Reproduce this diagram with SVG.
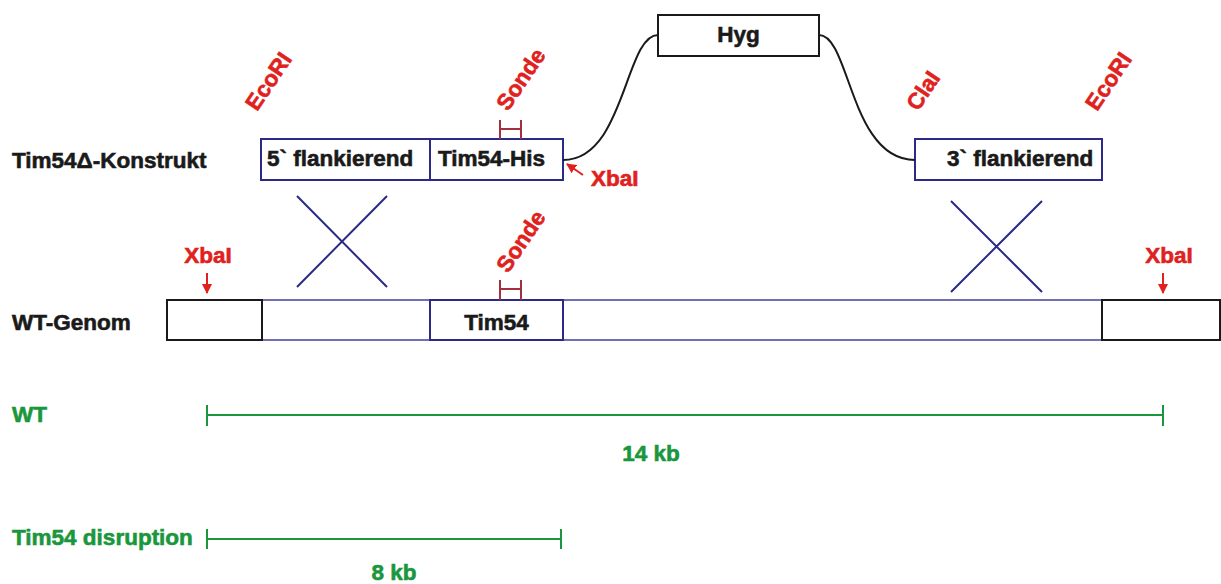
<svg xmlns="http://www.w3.org/2000/svg" width="1221" height="584" viewBox="0 0 1221 584">
  <style>
    text { font-family: "Liberation Sans", Arial, sans-serif; font-weight: bold; font-size: 22.5px; stroke-width: 0.6px; }
    .blk { fill: #1a1a1a; stroke: #1a1a1a; }
    .red { fill: #e0211d; stroke: #e0211d; }
    .grn { fill: #1a963c; stroke: #1a963c; }
    .navy { fill: #fff; stroke: #2b2a86; stroke-width: 2; }
    .bbox { fill: #fff; stroke: #1a1a1a; stroke-width: 2; }
    .cross { stroke: #2b2a86; stroke-width: 2; fill: none; }
    .probe { stroke: #a3303f; stroke-width: 2; fill: none; }
    .gline { stroke: #1a963c; stroke-width: 2; fill: none; }
    .wire { stroke: #1a1a1a; stroke-width: 2; fill: none; }
    .rarrow { stroke: #e0211d; stroke-width: 2; fill: none; }
    .genline { stroke: #7070b2; stroke-width: 2; fill: none; }
  </style>
  <defs>
    <marker id="ah" viewBox="0 0 10 10" refX="9" refY="5" markerWidth="5" markerHeight="5" orient="auto" markerUnits="strokeWidth">
      <path d="M0,0 L10,5 L0,10 z" fill="#e0211d"/>
    </marker>
  </defs>

  <rect width="1221" height="584" fill="#fff"/>

  <!-- Row labels -->
  <g id="label-construct"><text class="blk" x="12" y="168">Tim54Δ-Konstrukt</text></g>
  <g id="label-genome"><text class="blk" x="12" y="330">WT-Genom</text></g>

  <!-- Construct -->
  <g id="box-5flank">
    <rect class="navy" x="261" y="139" width="169" height="41"/>
    <text class="blk" x="267" y="166">5` flankierend</text>
  </g>
  <g id="box-tim54his">
    <rect class="navy" x="430" y="139" width="133" height="41"/>
    <text class="blk" x="438" y="166">Tim54-His</text>
  </g>
  <g id="box-hyg">
    <rect class="bbox" x="658" y="15" width="161" height="41"/>
    <text class="blk" x="738.5" y="42" text-anchor="middle">Hyg</text>
  </g>
  <g id="box-3flank">
    <rect class="navy" x="915" y="139" width="187" height="41"/>
    <text class="blk" x="947" y="166">3` flankierend</text>
  </g>

  <!-- Genome -->
  <g id="genome">
    <line class="genline" x1="262" y1="300" x2="1102" y2="300"/>
    <line class="genline" x1="262" y1="340" x2="1102" y2="340"/>
    <rect class="bbox" x="167" y="300" width="95" height="40"/>
    <rect class="bbox" x="1102" y="300" width="118" height="40"/>
  </g>
  <g id="box-tim54">
    <rect class="navy" x="430" y="300" width="133" height="40"/>
    <text class="blk" x="496.5" y="330" text-anchor="middle">Tim54</text>
  </g>

  <!-- Restriction sites and probes -->
  <g id="site-ecori-left"><text class="red" transform="translate(257,112) rotate(-56)">EcoRI</text></g>
  <g id="site-clai"><text class="red" transform="translate(918,112) rotate(-56)">ClaI</text></g>
  <g id="site-ecori-right"><text class="red" transform="translate(1097,112) rotate(-56)">EcoRI</text></g>
  <g id="probe-construct">
    <path class="probe" d="M500,120 V139 M521,120 V139 M500,129 H521"/>
    <text class="red" transform="translate(508,112) rotate(-56)">Sonde</text>
  </g>
  <g id="probe-genome">
    <path class="probe" d="M500,280 V300 M521,280 V300 M500,289 H521"/>
    <text class="red" transform="translate(508,274) rotate(-56)">Sonde</text>
  </g>
  <g id="site-xbai-construct">
    <line class="rarrow" x1="583" y1="175" x2="567" y2="164" marker-end="url(#ah)"/>
    <text class="red" x="591" y="186">XbaI</text>
  </g>
  <g id="site-xbai-left">
    <line class="rarrow" x1="207" y1="273" x2="207" y2="293" marker-end="url(#ah)"/>
    <text class="red" x="208" y="263" text-anchor="middle">XbaI</text>
  </g>
  <g id="site-xbai-right">
    <line class="rarrow" x1="1163" y1="273" x2="1163" y2="293" marker-end="url(#ah)"/>
    <text class="red" x="1169" y="263" text-anchor="middle">XbaI</text>
  </g>

  <!-- Connectors -->
  <g id="connectors">
    <path class="wire" d="M563,160 C625,160 625,35 658,35"/>
    <path class="wire" d="M819,35 C850,35 850,160 915,160"/>
    <path class="cross" d="M297,196 L387,287 M387,196 L297,287"/>
    <path class="cross" d="M951,201 L1042,292 M1042,201 L951,292"/>
  </g>

  <!-- Fragments -->
  <g id="frag-wt">
    <text class="grn" x="12" y="422">WT</text>
    <path class="gline" d="M207,415 H1163 M207,405 V426 M1163,405 V426"/>
    <text class="grn" x="651" y="461" text-anchor="middle">14 kb</text>
  </g>
  <g id="frag-disruption">
    <text class="grn" x="12" y="545">Tim54 disruption</text>
    <path class="gline" d="M207,539 H561 M207,529 V549 M561,529 V549"/>
    <text class="grn" x="394" y="580" text-anchor="middle">8 kb</text>
  </g>
</svg>
